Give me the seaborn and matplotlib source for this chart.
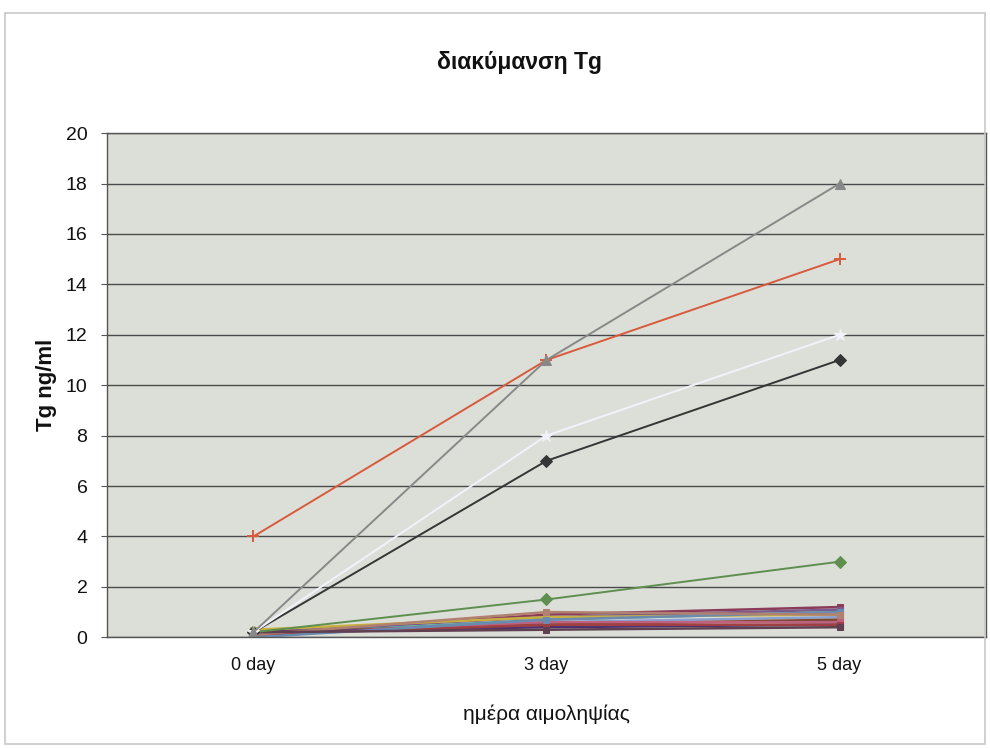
import pandas as pd
import matplotlib
matplotlib.use("Agg")
import matplotlib.pyplot as plt
import seaborn as sns
from matplotlib.patches import Rectangle

days = ["0 day", "3 day", "5 day"]

# main visible series
tg_gray = [0.2, 11.0, 18.0]
tg_red = [4.0, 11.0, 15.0]
tg_white = [0.2, 8.0, 12.0]
tg_black = [0.2, 7.0, 11.0]
tg_green = [0.2, 1.5, 3.0]

# crowded series near zero
low_values = [
    [0.1, 0.9, 1.2],
    [0.2, 0.8, 1.1],
    [0.1, 0.7, 1.0],
    [0.3, 0.8, 0.9],
    [0.1, 0.6, 0.8],
    [0.2, 0.5, 0.7],
    [0.1, 0.6, 0.6],
    [0.2, 0.4, 0.5],
    [0.1, 0.5, 0.5],
    [0.0, 0.7, 1.0],
    [0.1, 1.0, 0.9],
    [0.2, 0.3, 0.4],
]
low_colors = ["#8b3a5a", "#7a5a8a", "#5aa0a0", "#c8b040", "#8aa0d0", "#7a4a30",
              "#c06080", "#503070", "#a04040", "#6a8ab0", "#b08070", "#604050"]

sns.set_style("white")
plt.rcParams['font.family'] = ['Liberation Sans', 'DejaVu Sans']

fig = plt.figure(figsize=(9.9, 7.48), dpi=100)
fig.patches.append(Rectangle((0.005, 0.005), 0.99, 0.978, transform=fig.transFigure,
                             fill=False, edgecolor="#c8c8c8", linewidth=1.2))
ax = fig.add_axes([0.108, 0.148, 0.888, 0.674])
ax.set_facecolor("#dcdfd8")

x = list(range(len(days)))

for vals, col in zip(low_values, low_colors):
    sns.lineplot(x=x, y=vals, color=col, marker="s", markersize=4, linewidth=1.8,
                 markeredgecolor=col, ax=ax)

sns.lineplot(x=x, y=tg_green, color="#5e8f4e", marker="D", markersize=6, linewidth=1.4,
             markeredgecolor="#5e8f4e", ax=ax)
sns.lineplot(x=x, y=tg_black, color="#353535", marker="D", markersize=6, linewidth=1.4,
             markeredgecolor="#353535", ax=ax)
sns.lineplot(x=x, y=tg_white, color="#f2f2fa", marker="*", markersize=9, linewidth=1.4,
             markeredgecolor="#f2f2fa", ax=ax)
sns.lineplot(x=x, y=tg_red, color="#d85a3c", marker="+", markersize=9, linewidth=1.4,
             markeredgewidth=1.4, markeredgecolor="#d85a3c", ax=ax)
sns.lineplot(x=x, y=tg_gray, color="#888888", marker="^", markersize=7, linewidth=1.4,
             markeredgecolor="#888888", ax=ax)

ax.set_xlim(-0.5, 2.5)
ax.set_ylim(0, 20)
ax.set_xticks(x)
ax.set_xticklabels(days, fontsize=13)
ax.set_yticks(range(0, 21, 2))
ax.tick_params(axis="y", labelsize=14, length=4, pad=10, color="#555555", left=True,
               labelcolor="#111111")
ax.tick_params(axis="x", length=0, pad=14, labelcolor="#111111")
ax.yaxis.grid(True, color="#4a4a4a", linewidth=1)
ax.xaxis.grid(False)
ax.set_axisbelow(True)
for s in ax.spines.values():
    s.set_color("#555555")
    s.set_linewidth(1)

ax.set_xlabel("ημέρα αιμοληψίας", fontsize=15, labelpad=22, color="#111111")
ax.set_ylabel("Tg ng/ml", fontsize=16, fontweight="bold", labelpad=6, color="#111111")
fig.text(0.525, 0.917, "διακύμανση Tg", ha="center", va="center", fontsize=16.5,
         fontweight="bold", color="#111111")

fig.savefig("out.png", dpi=100)
